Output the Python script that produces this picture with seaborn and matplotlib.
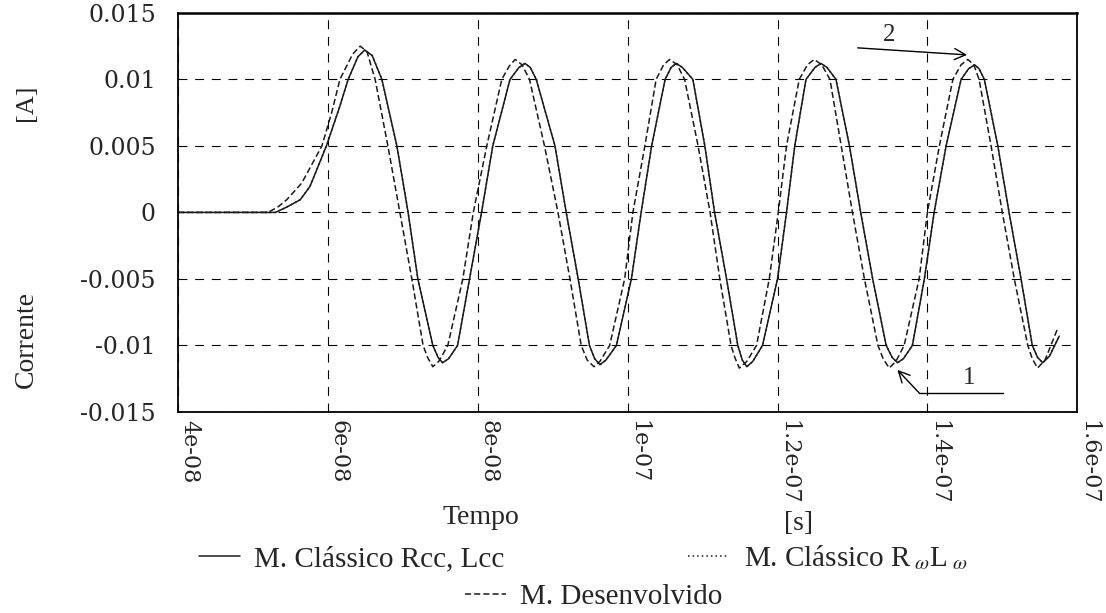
import matplotlib
matplotlib.use("Agg")
import matplotlib.pyplot as plt
from matplotlib.lines import Line2D
import numpy as np
import pandas as pd
import seaborn as sns

# ---- data: time in ns, current in mA ----
t_rcc = [40.0, 53.0, 54.5, 56.3, 57.6, 59.8, 61.6, 62.7, 64.0, 64.9,
         65.9, 67.2, 69.2, 70.7, 72.0, 74.0, 74.7, 75.3, 76.1, 77.3,
         78.9, 80.5, 82.0, 84.3, 85.5, 86.3, 87.0, 87.8, 90.3, 91.8,
         93.4, 94.9, 95.6, 96.3, 97.1, 98.5, 100.5, 101.8, 103.2, 105.0,
         105.8, 106.5, 107.3, 108.7, 110.3, 111.6, 113.2, 114.7, 115.3, 115.9,
         116.7, 118.0, 120.0, 121.2, 122.3, 123.8, 125.0, 125.8, 126.6, 127.8,
         129.6, 131.1, 132.7, 134.5, 135.3, 136.0, 136.8, 138.0, 139.6, 140.9,
         142.5, 144.5, 145.5, 146.3, 146.9, 147.6, 149.4, 150.9, 152.5, 154.0,
         154.7, 155.4, 156.3, 157.6]
i_rcc = [0.0, 0.0, 0.4, 0.95, 1.95, 5.0, 8.0, 10.0, 11.7, 12.2,
         11.8, 10.0, 5.0, 0.0, -5.0, -10.0, -10.9, -11.3, -11.0, -10.0,
         -5.0, 0.0, 5.0, 10.0, 10.9, 11.2, 10.9, 10.0, 5.0, 0.0,
         -5.0, -10.0, -11.0, -11.45, -11.1, -10.0, -5.0, 0.0, 5.0, 10.0,
         10.9, 11.2, 10.9, 10.0, 5.0, 0.0, -5.0, -10.0, -11.1, -11.6,
         -11.2, -10.0, -5.0, 0.0, 5.0, 10.0, 10.9, 11.2, 10.9, 10.0,
         5.0, 0.0, -5.0, -10.0, -10.9, -11.3, -11.0, -10.0, -5.0, 0.0,
         5.0, 10.0, 10.8, 11.1, 10.8, 10.0, 5.0, 0.0, -5.0, -10.0,
         -10.9, -11.3, -10.8, -9.3]

# the frequency-dependent classic model lies on top of the Rcc/Lcc trace
t_rwlw = list(t_rcc)
i_rwlw = list(i_rcc)

t_des = [40.0, 52.0, 53.3, 54.5, 56.5, 59.2, 60.5, 61.6, 63.3, 64.3,
         65.2, 66.3, 68.0, 69.6, 71.2, 72.7, 73.3, 74.0, 74.8, 76.0,
         78.0, 79.4, 81.2, 83.2, 84.2, 85.0, 85.9, 86.9, 88.9, 90.7,
         92.3, 93.8, 94.6, 95.5, 96.3, 97.6, 99.6, 100.7, 102.3, 103.8,
         104.8, 105.6, 106.6, 107.6, 109.4, 111.0, 112.3, 113.8, 114.3, 114.9,
         115.9, 117.2, 118.9, 120.1, 121.2, 122.9, 124.0, 124.9, 125.9, 127.0,
         128.5, 130.0, 131.6, 133.4, 134.1, 134.9, 135.8, 136.9, 138.9, 140.0,
         141.6, 143.4, 144.5, 145.4, 146.2, 146.9, 148.5, 150.0, 151.6, 153.4,
         154.0, 154.7, 155.7, 157.4]
i_des = [0.0, 0.0, 0.4, 0.95, 2.2, 5.0, 7.5, 10.0, 11.9, 12.5,
         12.1, 10.0, 5.0, 0.0, -5.0, -10.0, -10.9, -11.6, -11.2, -10.0,
         -5.0, 0.0, 5.0, 10.0, 11.0, 11.5, 11.1, 10.0, 5.0, 0.0,
         -5.0, -10.0, -11.1, -11.6, -11.2, -10.0, -5.0, 0.0, 5.0, 10.0,
         11.1, 11.5, 11.1, 10.0, 5.0, 0.0, -5.0, -10.0, -10.9, -11.7,
         -11.2, -10.0, -5.0, 0.0, 5.0, 10.0, 11.1, 11.5, 11.1, 10.0,
         5.0, 0.0, -5.0, -10.0, -11.0, -11.7, -11.2, -10.0, -5.0, 0.0,
         5.0, 10.0, 11.1, 11.5, 11.1, 10.0, 5.0, 0.0, -5.0, -10.0,
         -11.0, -11.7, -11.1, -8.7]

model_names = ["M. Clássico Rcc, Lcc",
               "M. Clássico R$_{\\;\\omega}$L$_{\\;\\omega}$",
               "M. Desenvolvido"]

x_ticks = [4e-08, 6e-08, 8e-08, 1e-07, 1.2e-07, 1.4e-07, 1.6e-07]
x_tick_labels = ["4e-08", "6e-08", "8e-08", "1e-07", "1.2e-07", "1.4e-07", "1.6e-07"]
y_ticks = [0.015, 0.01, 0.005, 0.0, -0.005, -0.01, -0.015]
y_tick_labels = ["0.015", "0.01", "0.005", "0", "-0.005", "-0.01", "-0.015"]

# ---- style ----
sns.set_style("white")
plt.rcParams["font.family"] = ["Liberation Serif", "DejaVu Serif"]
plt.rcParams["mathtext.fontset"] = "stix"

frames = []
for name, t, i in zip(model_names, [t_rcc, t_rwlw, t_des], [i_rcc, i_rwlw, i_des]):
    frames.append(pd.DataFrame({"tempo": np.asarray(t) * 1e-9,
                                "corrente": np.asarray(i) * 1e-3,
                                "modelo": name}))
df = pd.concat(frames, ignore_index=True)

line_styles = {model_names[0]: "-",
               model_names[1]: (0, (1, 2)),
               model_names[2]: (0, (4, 2))}
ink = "#1a1a1a"

fig = plt.figure(figsize=(11.06, 6.13), dpi=100)
ax = fig.add_axes([0.161, 0.328, 0.813, 0.651])

for name in [model_names[2], model_names[1], model_names[0]]:
    sns.lineplot(data=df[df["modelo"] == name], x="tempo", y="corrente",
                 ax=ax, color=ink, linewidth=1.1, estimator=None, sort=False,
                 legend=False, linestyle=line_styles[name])

ax.set_xlim(4e-08, 1.6e-07)
ax.set_ylim(-0.015, 0.015)
ax.set_xticks(x_ticks, x_tick_labels)
ax.set_yticks(y_ticks, y_tick_labels)
ax.set_xlabel("")
ax.set_ylabel("")

ax.grid(True, color="black", linestyle=(0, (8, 7)), linewidth=0.8)
ax.set_axisbelow(True)
for side in ["left", "right", "top", "bottom"]:
    ax.spines[side].set_visible(True)
    ax.spines[side].set_color("black")
    ax.spines[side].set_linewidth(1.3)
ax.spines["top"].set_linewidth(1.8)

ax.tick_params(axis="both", direction="in", length=4, color="black")
ax.tick_params(axis="y", pad=16)
ax.tick_params(axis="x", pad=6)
for lab in ax.get_yticklabels():
    lab.set_fontfamily("DejaVu Serif")
    lab.set_fontsize(17)
for lab in ax.get_xticklabels():
    lab.set_fontfamily("DejaVu Serif")
    lab.set_fontsize(16)
    lab.set_rotation(270)
    lab.set_horizontalalignment("left")
    lab.set_verticalalignment("top")

# ---- axis titles ----
fig.text(481 / 1106, 1 - 517 / 613, "Tempo", ha="center", va="center", fontsize=20)
fig.text(798 / 1106, 1 - 524 / 613, "[s]", ha="center", va="center", fontsize=20)
fig.text(26 / 1106, 1 - 340 / 613, "Corrente", ha="center", va="center",
         rotation=90, fontsize=20)
fig.text(26 / 1106, 1 - 103 / 613, "[A]", ha="center", va="center",
         rotation=90, fontsize=19)

# ---- callouts ----
label2_xy = (134.9e-9, 0.01335)
arrow2_from = (130.7e-9, 0.01237)
arrow2_to = (145.3e-9, 0.01184)
label1_xy = (145.6e-9, -0.01244)
leader1 = ([150.1e-9, 138.9e-9], [-0.01357, -0.01357])
arrow1_to = (136.0e-9, -0.01184)

ax.text(*label2_xy, "2", ha="center", va="center", fontsize=18)
ax.annotate("", xy=arrow2_to, xytext=arrow2_from,
            arrowprops=dict(arrowstyle="->", color="black", lw=1.0,
                            shrinkA=0, shrinkB=0, mutation_scale=20))
ax.text(*label1_xy, "1", ha="center", va="center", fontsize=18)
ax.plot(leader1[0], leader1[1], color="black", lw=1.0)
ax.annotate("", xy=arrow1_to, xytext=(leader1[0][1], leader1[1][1]),
            arrowprops=dict(arrowstyle="->", color="black", lw=1.0,
                            shrinkA=0, shrinkB=0, mutation_scale=20))

# ---- legend ----
handles = [Line2D([], [], color=ink, lw=1.1, linestyle=line_styles[n]) for n in model_names]
leg_kw = dict(frameon=False, prop={"family": "Liberation Serif", "size": 21},
              handlelength=1.4, handletextpad=0.5, borderaxespad=0, borderpad=0)
fig.legend(handles[:2], model_names[:2], loc="center", ncol=2,
           bbox_to_anchor=(0.527, 1 - 558 / 613), columnspacing=6.3, **leg_kw)
fig.legend(handles[2:], model_names[2:], loc="center",
           bbox_to_anchor=(0.537, 1 - 597 / 613), **leg_kw)

fig.savefig("out.png", dpi=100)
